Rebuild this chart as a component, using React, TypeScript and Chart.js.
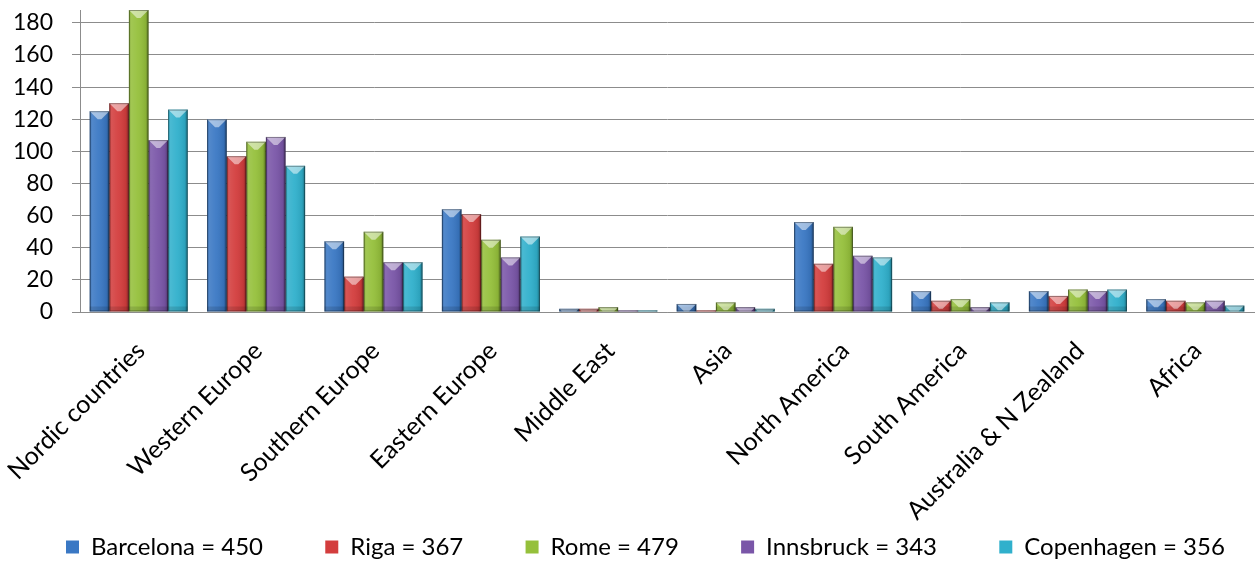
import { useEffect, useRef } from "react";
import { Chart, registerables } from "chart.js";

Chart.register(...registerables);

const categories = [
  "Nordic countries",
  "Western Europe",
  "Southern Europe",
  "Eastern Europe",
  "Middle East",
  "Asia",
  "North America",
  "South America",
  "Australia & N Zealand",
  "Africa",
];

const barcelona = [125, 120, 44, 64, 2, 5, 56, 13, 13, 8];
const riga = [130, 97, 22, 61, 2, 1, 30, 7, 10, 7];
const rome = [188, 106, 50, 45, 3, 6, 53, 8, 14, 6];
const innsbruck = [107, 109, 31, 34, 1, 3, 35, 3, 13, 7];
const copenhagen = [126, 91, 31, 47, 1, 2, 34, 6, 14, 4];

const seriesLabels = [
  "Barcelona = 450",
  "Riga = 367",
  "Rome = 479",
  "Innsbruck = 343",
  "Copenhagen = 356",
];
const seriesValues = [barcelona, riga, rome, innsbruck, copenhagen];
const seriesColors = ["#3a78c4", "#d33d3d", "#95c03b", "#7a56a8", "#30b0cc"];

const yTickValues = [0, 20, 40, 60, 80, 100, 120, 140, 160, 180];
const yMax = 188;

const LEGEND_FONT = 24;
const LEGEND_GAP = 54;

const bevelPlugin = {
  id: "bevel",
  afterDatasetsDraw(chart: any) {
    const { ctx, chartArea } = chart;
    ctx.save();
    ctx.beginPath();
    ctx.rect(
      chartArea.left,
      chartArea.top,
      chartArea.right - chartArea.left,
      chartArea.bottom - chartArea.top + 1
    );
    ctx.clip();
    chart.data.datasets.forEach((_ds: any, di: number) => {
      const meta = chart.getDatasetMeta(di);
      meta.data.forEach((bar: any) => {
        const { x, y, base, width } = bar.getProps(["x", "y", "base", "width"], true);
        const x0 = x - width / 2;
        const x1 = x + width / 2;
        const top = Math.max(Math.min(y, base), chartArea.top);
        const bottom = Math.max(y, base);
        const h = bottom - top;
        if (h <= 0) return;
        const g = ctx.createLinearGradient(x0, 0, x1, 0);
        g.addColorStop(0, "rgba(0,0,0,0.22)");
        g.addColorStop(0.12, "rgba(255,255,255,0.12)");
        g.addColorStop(0.45, "rgba(255,255,255,0.05)");
        g.addColorStop(0.85, "rgba(0,0,0,0.08)");
        g.addColorStop(1, "rgba(0,0,0,0.38)");
        ctx.fillStyle = g;
        ctx.fillRect(x0, top, width, h);
        const bh = Math.min(5, h);
        ctx.fillStyle = "rgba(0,0,0,0.12)";
        ctx.fillRect(x0, bottom - bh, width, bh);
        const d = Math.min(8, h, width / 2);
        ctx.beginPath();
        ctx.moveTo(x0, top);
        ctx.lineTo(x1, top);
        ctx.lineTo(x1 - d, top + d);
        ctx.lineTo(x0 + d, top + d);
        ctx.closePath();
        ctx.fillStyle = "rgba(255,255,255,0.5)";
        ctx.fill();
        ctx.strokeStyle = "rgba(0,0,0,0.35)";
        ctx.lineWidth = 1;
        ctx.strokeRect(x0 + 0.5, top + 0.5, width - 1, h - 1);
      });
    });
    ctx.restore();
  },
};

export default function App() {
  const canvasRef = useRef<HTMLCanvasElement | null>(null);

  useEffect(() => {
    if (!canvasRef.current) return;
    Chart.defaults.font.family = "Lato";
    Chart.defaults.color = "#000";
    const chart = new Chart(canvasRef.current, {
      type: "bar",
      data: {
        labels: categories,
        datasets: seriesLabels.map((label, i) => ({
          label,
          data: seriesValues[i],
          backgroundColor: seriesColors[i],
          borderWidth: 0,
          categoryPercentage: 0.835,
          barPercentage: 1.0,
        })),
      },
      options: {
        animation: false,
        responsive: true,
        maintainAspectRatio: false,
        layout: { padding: { top: 10, left: 59, right: 1, bottom: 0 } },
        plugins: {
          tooltip: { enabled: false },
          legend: {
            position: "bottom",
            align: "start",
            labels: {
              boxWidth: 13,
              boxHeight: 13,
              padding: 7,
              font: { size: LEGEND_FONT, family: "Lato" },
              color: "#000",
              generateLabels: (chart: any) => {
                const items = Chart.defaults.plugins.legend.labels.generateLabels(chart);
                const ctx = chart.ctx;
                ctx.save();
                ctx.font = `${LEGEND_FONT}px Lato`;
                const sw = ctx.measureText(" ").width || 6;
                ctx.restore();
                const n = Math.max(1, Math.round(LEGEND_GAP / sw));
                return items.map((it: any, i: number) => ({
                  ...it,
                  text: i < items.length - 1 ? it.text + " ".repeat(n) : it.text,
                  lineWidth: 0,
                }));
              },
            },
          },
        },
        scales: {
          x: {
            grid: { display: false, drawTicks: false },
            border: { display: true, color: "#8c8c8c", width: 1 },
            ticks: {
              autoSkip: false,
              minRotation: 45,
              maxRotation: 45,
              padding: 24,
              labelOffset: 2,
              font: { size: 25, family: "Lato" },
              color: "#000",
            },
            afterFit: (scale: any) => {
              scale.height = 216;
              scale.paddingLeft = 0;
              scale.paddingRight = 0;
              scale._computeLabelArea = () => undefined;
            },
          },
          y: {
            min: 0,
            max: yMax,
            grid: {
              color: "#8c8c8c",
              lineWidth: 1,
              drawTicks: true,
              tickLength: 8,
            },
            border: { display: true, color: "#8c8c8c", width: 1 },
            ticks: {
              autoSkip: false,
              stepSize: 20,
              padding: 19,
              font: { size: 23, family: "Lato" },
              color: "#000",
            },
            afterBuildTicks: (scale: any) => {
              scale.ticks = yTickValues.map((v) => ({ value: v }));
            },
            afterFit: (scale: any) => {
              scale.width = 21;
              scale.paddingTop = 0;
              scale.paddingBottom = 0;
              scale._computeLabelArea = () => undefined;
            },
          },
        },
      },
      plugins: [bevelPlugin],
    });
    return () => chart.destroy();
  }, []);

  return (
    <div style={{ position: "absolute", left: 0, top: 0, width: 1255, height: 561, overflow: "hidden" }}>
      <div style={{ position: "relative", width: 1255, height: 569 }}>
        <canvas ref={canvasRef} />
      </div>
    </div>
  );
}
